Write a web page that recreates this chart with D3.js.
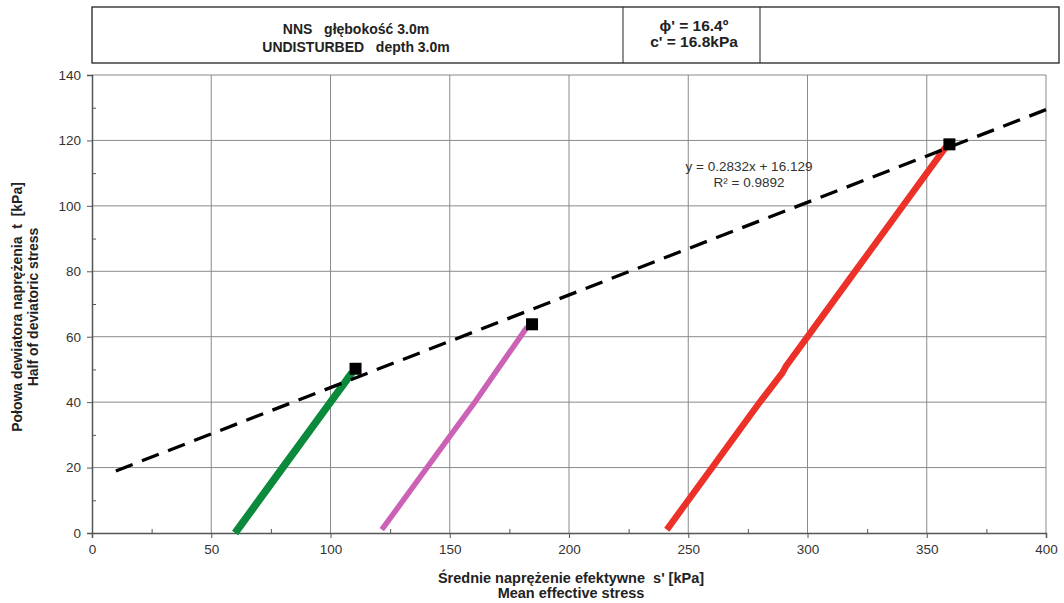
<!DOCTYPE html>
<html>
<head>
<meta charset="utf-8">
<script src="https://cdn.jsdelivr.net/npm/d3@7"></script>
<style>
  body { margin: 0; background: #fff; }
  svg { font-family: "Liberation Sans", Arial, sans-serif; }
  .grid line { stroke: #8a8a8a; stroke-width: 1; }
  .axis text { font-size: 13.5px; fill: #333; }
  .axis path, .axis line { stroke: #555; }
  .lbl { font-size: 14px; font-weight: bold; fill: #222; }
</style>
</head>
<body>
<svg width="1064" height="603"></svg>
<script>
var width = 1064,
    height = 603;

// header text
var headerLeft = ["NNS   głębokość 3.0m", "UNDISTURBED   depth 3.0m"];
var headerMid = ["ϕ' = 16.4º", "c' = 16.8kPa"];

// axis ticks
var xTicks = [0, 50, 100, 150, 200, 250, 300, 350, 400];
var yTicks = [0, 20, 40, 60, 80, 100, 120, 140];

// stress paths (s', t)
var greenPath = [[60, 0], [70, 10], [80, 20], [90, 30], [100, 40], [109, 49]];
var pinkPath = [[121.5, 1], [131, 10.5], [141, 20.5], [151, 30.5], [161, 40.5], [171, 51], [182.5, 63]];
var redPath = [[241, 1], [260, 20], [280, 40], [289.5, 49], [291, 51], [300, 60], [320, 80], [340, 100], [358, 118]];

// failure points
var failX = [110.5, 184.5, 359.5];
var failY = [50.2, 63.8, 118.8];

// linear trend of the failure points
var trendSlope = 0.2832, trendIntercept = 16.129;
var trendX = [10, 400];
var trendText = ["y = 0.2832x + 16.129", "R² = 0.9892"];

var svg = d3.select("svg");

var x = d3.scaleLinear().domain([0, 400]).range([92, 1046]);
var y = d3.scaleLinear().domain([0, 140]).range([533, 75]);

//header table
var hdr = svg.append("g");
hdr.append("rect").attr("x", 92).attr("y", 7).attr("width", 967).attr("height", 56)
   .attr("fill", "none").attr("stroke", "#222").attr("stroke-width", 1.3);
hdr.append("line").attr("x1", 623).attr("x2", 623).attr("y1", 7).attr("y2", 63).attr("stroke", "#222");
hdr.append("line").attr("x1", 760).attr("x2", 760).attr("y1", 7).attr("y2", 63).attr("stroke", "#222");
hdr.selectAll("text.l").data(headerLeft).enter().append("text")
   .attr("class", "lbl").attr("x", 356).attr("y", function(d, i) { return 33.5 + i * 18; })
   .attr("text-anchor", "middle").style("white-space", "pre").text(function(d) { return d; });
hdr.selectAll("text.m").data(headerMid).enter().append("text")
   .attr("class", "lbl").attr("x", 694).attr("y", function(d, i) { return 31 + i * 16; })
   .attr("text-anchor", "middle").style("font-size", "15.5px").text(function(d) { return d; });

// grid
var grid = svg.append("g").attr("class", "grid");
grid.selectAll("line.v").data(xTicks.slice(1)).enter().append("line")
    .attr("x1", x).attr("x2", x).attr("y1", y(0)).attr("y2", y(140));
grid.selectAll("line.h").data(yTicks.slice(1)).enter().append("line")
    .attr("y1", y).attr("y2", y).attr("x1", x(0)).attr("x2", x(400));

// axes
svg.append("g").attr("class", "axis")
   .attr("transform", "translate(0," + y(0) + ")")
   .call(d3.axisBottom(x).tickValues(xTicks).tickSize(5).tickPadding(6))
   .call(function(g) { g.select(".domain").attr("stroke-width", 1.5); });
svg.append("g").attr("class", "axis")
   .attr("transform", "translate(0," + y(0) + ")")
   .call(d3.axisTop(x).tickValues(d3.range(25, 400, 50)).tickSize(4).tickFormat(""))
   .call(function(g) { g.select(".domain").remove(); });
svg.append("g").attr("class", "axis")
   .attr("transform", "translate(" + x(0) + ",0)")
   .call(d3.axisLeft(y).tickValues(yTicks).tickSize(5).tickPadding(6))
   .call(function(g) { g.select(".domain").attr("stroke-width", 1.5); });
svg.append("g").attr("class", "axis")
   .attr("transform", "translate(" + x(0) + ",0)")
   .call(d3.axisRight(y).tickValues(d3.range(10, 140, 20)).tickSize(4).tickFormat(""))
   .call(function(g) { g.select(".domain").remove(); });

// stress paths
var line = d3.line().x(function(d) { return x(d[0]); }).y(function(d) { return y(d[1]); });
var paths = [
  { data: greenPath, color: "#0a8a3a", w: 7.5 },
  { data: pinkPath, color: "#cc62b6", w: 5.5 },
  { data: redPath, color: "#ec3128", w: 6.5 }
];
svg.append("g").selectAll("path").data(paths).enter().append("path")
   .attr("d", function(d) { return line(d.data); })
   .attr("fill", "none")
   .attr("stroke", function(d) { return d.color; })
   .attr("stroke-width", function(d) { return d.w; })
   .attr("stroke-linejoin", "round");

// trend line
svg.append("path")
   .attr("d", line(trendX.map(function(v) { return [v, trendSlope * v + trendIntercept]; })))
   .attr("fill", "none").attr("stroke", "#000").attr("stroke-width", 3.3)
   .attr("stroke-dasharray", "18,10");

// failure squares
svg.append("g").selectAll("rect").data(failX).enter().append("rect")
   .attr("x", function(d) { return x(d) - 6; })
   .attr("y", function(d, i) { return y(failY[i]) - 6; })
   .attr("width", 12).attr("height", 12).attr("fill", "#000");

svg.selectAll("text.trend").data(trendText).enter().append("text")
   .attr("x", 749).attr("y", function(d, i) { return 171 + i * 16; })
   .attr("text-anchor", "middle").style("font-size", "13.5px").attr("fill", "#333")
   .text(function(d) { return d; });

//axis labels
svg.append("text").attr("class", "lbl").attr("x", 571).attr("y", 583).attr("text-anchor", "middle")
   .style("white-space", "pre").style("font-size", "14.5px").text("Średnie naprężenie efektywne  s' [kPa]");
svg.append("text").attr("class", "lbl").attr("x", 571).attr("y", 598).attr("text-anchor", "middle")
   .style("font-size", "14.5px").text("Mean effective stress");
var yl = svg.append("g").attr("transform", "translate(22,307) rotate(-90)");
yl.append("text").attr("class", "lbl").attr("text-anchor", "middle").style("white-space", "pre")
  .text("Połowa dewiatora naprężenia  t  [kPa]");
yl.append("text").attr("class", "lbl").attr("y", 16).attr("text-anchor", "middle")
  .text("Half of deviatoric stress");
</script>
</body>
</html>
